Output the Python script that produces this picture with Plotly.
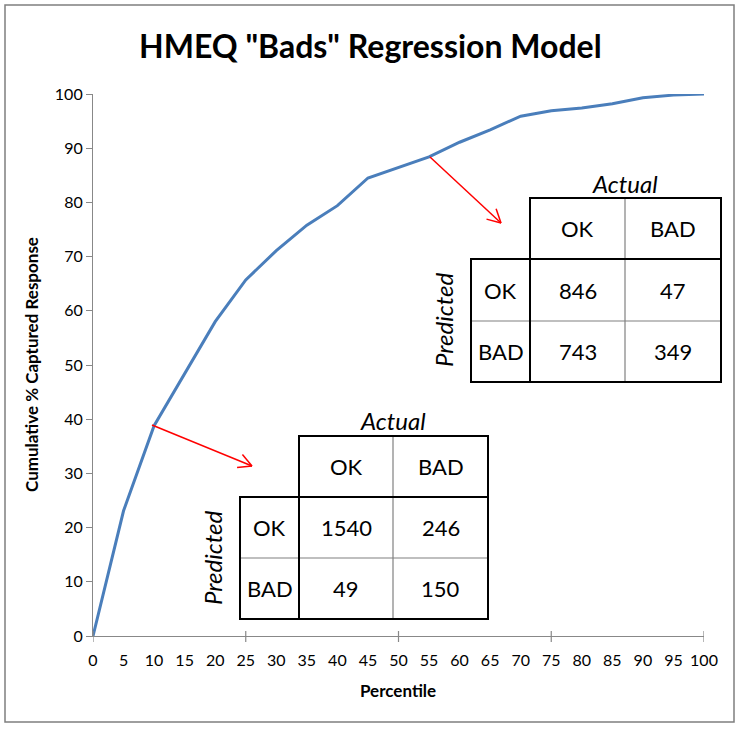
import math
import plotly.graph_objects as go

# ---- data ----
percentile = [0, 5, 10, 15, 20, 25, 30, 35, 40, 45, 50, 55, 60, 65, 70, 75, 80, 85, 90, 95, 100]
cum_captured = [0, 23.1, 38.8, 48.4, 58.0, 65.7, 71.1, 75.8, 79.4, 84.5, 86.5, 88.4, 91.1, 93.4, 95.9, 96.9, 97.4, 98.2, 99.3, 99.8, 100]
x_tick_labels = [str(v) for v in percentile]
y_ticks = [0, 10, 20, 30, 40, 50, 60, 70, 80, 90, 100]

col_labels = ["OK", "BAD"]
row_labels = ["OK", "BAD"]
matrix_low = [[1540, 246], [49, 150]]    # cutoff near 10th percentile
matrix_high = [[846, 47], [743, 349]]    # cutoff near 55th percentile

title_text = 'HMEQ "Bads" Regression Model'

# ---- layout geometry (pixels) ----
W, H = 740, 729
ML, MR, MT, MB = 93, 36, 94, 93
PW = W - ML - MR
PH = H - MT - MB

def px(x):
    return (x - ML) / PW

def py(y):
    return (H - MB - y) / PH

FONT = "Lato"
fig = go.Figure()
fig.add_trace(go.Scatter(x=percentile, y=cum_captured, mode="lines",
                         line=dict(color="#4a7ebb", width=3), showlegend=False,
                         hoverinfo="x+y"))

shapes = []
annotations = []

# outer frame
shapes.append(dict(type="rect", xref="paper", yref="paper",
                   x0=px(5), x1=px(734), y0=py(722), y1=py(5),
                   line=dict(color="#7f7f7f", width=1.5)))

# x-axis tick marks every 25 (crossing the axis line)
for v in [0, 25, 50, 75, 100]:
    shapes.append(dict(type="line", xref="x", yref="paper", x0=v, x1=v,
                       y0=py(H - MB + 6), y1=py(H - MB - 5),
                       line=dict(color="#888888", width=1.2)))


def txt(x, y, s, size=22, angle=0):
    annotations.append(dict(xref="paper", yref="paper", x=px(x), y=py(y),
                            xanchor="center", yanchor="middle",
                            text=s, showarrow=False, textangle=angle,
                            font=dict(family=FONT, size=size, color="black")))


def draw_table(L, C0, C1, C2, T, Hh, R1, B, actual_xy, pred_xy, matrix):
    thick = dict(color="black", width=2)
    thin = dict(color="#808080", width=1.2)
    shapes.append(dict(type="line", xref="paper", yref="paper",
                       x0=px(C1), x1=px(C1), y0=py(T), y1=py(B), line=thin))
    shapes.append(dict(type="line", xref="paper", yref="paper",
                       x0=px(L), x1=px(C2), y0=py(R1), y1=py(R1), line=thin))
    shapes.append(dict(type="rect", xref="paper", yref="paper",
                       x0=px(C0), x1=px(C2), y0=py(Hh), y1=py(T), line=thick))
    shapes.append(dict(type="rect", xref="paper", yref="paper",
                       x0=px(L), x1=px(C2), y0=py(B), y1=py(Hh), line=thick))
    shapes.append(dict(type="line", xref="paper", yref="paper",
                       x0=px(C0), x1=px(C0), y0=py(T), y1=py(B), line=thick))
    cols_x = [(C0 + C1) / 2, (C1 + C2) / 2]
    rows_y = [(Hh + R1) / 2, (R1 + B) / 2]
    for j, lab in enumerate(col_labels):
        txt(cols_x[j], (T + Hh) / 2, lab)
    for i, lab in enumerate(row_labels):
        txt((L + C0) / 2, rows_y[i], lab)
        for j in range(2):
            txt(cols_x[j], rows_y[i], str(matrix[i][j]))
    txt(actual_xy[0], actual_xy[1], "<i>Actual</i>", size=24)
    txt(pred_xy[0], pred_xy[1], "<i>Predicted</i>", size=24, angle=-90)


draw_table(471, 530, 625, 721, 198, 259, 321, 382, (625, 183), (443, 320), matrix_high)
draw_table(240, 299, 393, 488, 436, 497, 558, 619, (393, 421), (212, 558), matrix_low)


def draw_arrow(x0, y0, x1, y1):
    red = dict(color="#ff0000", width=1.5)
    shapes.append(dict(type="line", xref="paper", yref="paper",
                       x0=px(x0), y0=py(y0), x1=px(x1), y1=py(y1), line=red))
    ang = math.atan2(y1 - y0, x1 - x0)
    hl = 15
    for d in (math.radians(28), -math.radians(28)):
        hx = x1 - hl * math.cos(ang + d)
        hy = y1 - hl * math.sin(ang + d)
        shapes.append(dict(type="line", xref="paper", yref="paper",
                           x0=px(x1), y0=py(y1), x1=px(hx), y1=py(hy), line=red))


draw_arrow(430, 157, 501, 223)
draw_arrow(152, 425, 252, 466)

# titles
txt(370, 45, "<b>" + title_text + "</b>", size=32)
txt(31, 365, "<b>Cumulative % Captured Response</b>", size=17, angle=-90)
txt(398, 690, "<b>Percentile</b>", size=17)

fig.update_layout(
    width=W, height=H,
    margin=dict(l=ML, r=MR, t=MT, b=MB),
    paper_bgcolor="white", plot_bgcolor="white",
    xaxis=dict(range=[0, 100], tickmode="array", tickvals=percentile, ticktext=x_tick_labels,
               ticks="outside", ticklen=10, tickcolor="rgba(0,0,0,0)",
               showgrid=False, zeroline=False, showline=True,
               linecolor="#888888", linewidth=1.2,
               tickfont=dict(family=FONT, size=16, color="black")),
    yaxis=dict(range=[0, 100], tickmode="array", tickvals=y_ticks,
               ticks="outside", ticklen=6, tickcolor="#888888",
               showgrid=False, zeroline=False, showline=True,
               linecolor="#888888", linewidth=1.2,
               tickfont=dict(family=FONT, size=16, color="black")),
    shapes=shapes,
    annotations=annotations,
)

fig.write_html("out.html", config={"displayModeBar": False},
               post_script="document.body.style.margin='0px';")
